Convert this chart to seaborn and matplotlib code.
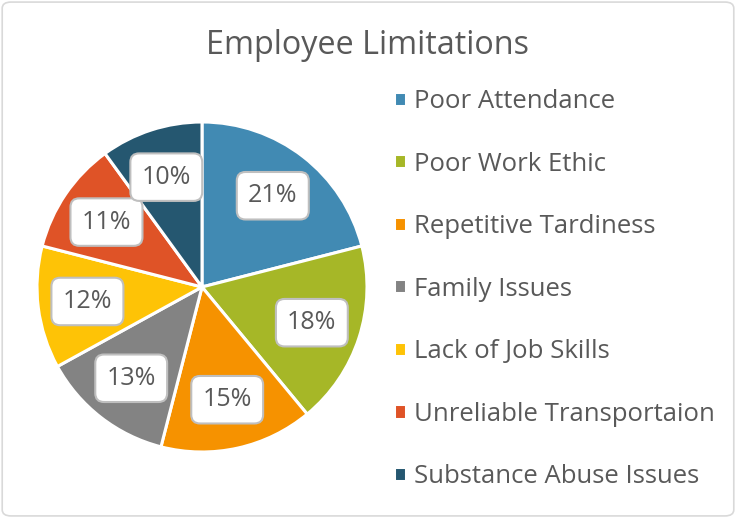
import matplotlib
matplotlib.use("Agg")
import matplotlib.pyplot as plt
from matplotlib.patches import FancyBboxPatch
import seaborn as sns

categories = ["Poor Attendance", "Poor Work Ethic", "Repetitive Tardiness", "Family Issues",
              "Lack of Job Skills", "Unreliable Transportaion", "Substance Abuse Issues"]
shares = [21, 18, 15, 13, 12, 11, 10]
colors = ["#418AB3", "#A6B727", "#F69200", "#838383", "#FEC306", "#DF5327", "#255770"]

sns.set_theme(style="white")
plt.rcParams["font.family"] = ["Open Sans", "DejaVu Sans"]
text_color = "#595959"
palette = sns.color_palette(colors)

fig = plt.figure(figsize=(7.36, 5.18), dpi=100)
fig.patch.set_facecolor("white")
fig.patches.append(FancyBboxPatch((0.003, 0.004), 0.994, 0.992, boxstyle="round,pad=0,rounding_size=0.012",
                                  transform=fig.transFigure, fc="white", ec="#D9D9D9", lw=1.2, zorder=-5))

ax = fig.add_axes([(202 - 165) / 736, (518 - 287 - 165) / 518, 330 / 736, 330 / 518])
wedges, texts, autotexts = ax.pie(
    shares, colors=palette, startangle=90, counterclock=False,
    autopct="%1.0f%%", pctdistance=0.70,
    wedgeprops=dict(edgecolor="white", linewidth=2.2),
    textprops=dict(color=text_color, fontsize=18),
)
for t in autotexts:
    t.set_bbox(dict(boxstyle="round,pad=0.45,rounding_size=0.35", fc="white", ec="#BFBFBF", lw=1.5))
ax.set_xlim(-1, 1)
ax.set_ylim(-1, 1)
ax.set_aspect("equal")

fig.text(368 / 736, 1 - 46 / 518, "Employee Limitations", ha="center", va="center",
         fontsize=23.3, color=text_color)

leg = fig.legend(wedges, categories, loc="upper left", bbox_to_anchor=(394 / 736, 1 - 89 / 518),
                 frameon=False, fontsize=18.5, labelcolor=text_color, borderaxespad=0, borderpad=0,
                 handlelength=0.47, handleheight=0.47, handletextpad=0.3, labelspacing=1.46)

fig.savefig("out.png", dpi=100)
